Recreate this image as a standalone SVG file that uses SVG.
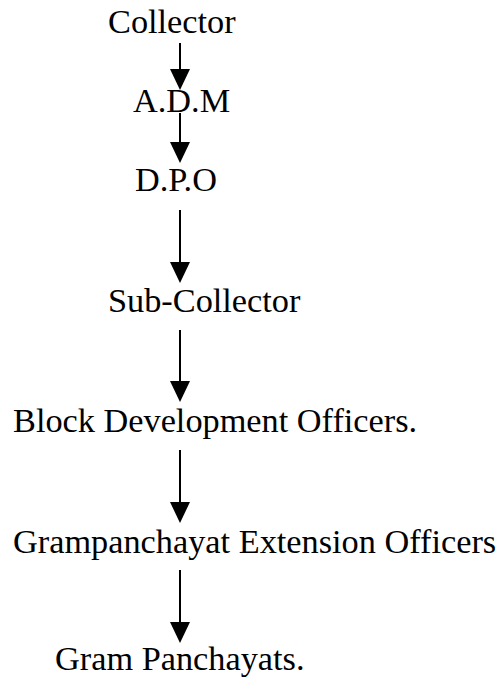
<svg xmlns="http://www.w3.org/2000/svg" width="503" height="679" viewBox="0 0 503 679">
<style>
text { font-family: "Liberation Serif", "Times New Roman", serif; font-size: 34.3px; fill: #000; }
.c line { stroke: #000; stroke-width: 2; marker-end: url(#ah); }
</style>
<defs>
<marker id="ah" markerWidth="21" markerHeight="20" refX="10" refY="10" orient="auto" markerUnits="userSpaceOnUse" viewBox="0 0 21 20">
<path d="M0,0 L21,10 L0,20 Z" fill="#000"/>
</marker>
</defs>
<rect width="503" height="679" fill="#fff"/>
<g id="n1"><text x="108" y="33">Collector</text></g>
<g id="n2"><text x="133" y="112">A.D.M</text></g>
<g id="n3"><text x="135" y="191">D.P.O</text></g>
<g id="n4"><text x="108" y="312">Sub-Collector</text></g>
<g id="n5"><text x="13" y="432">Block Development Officers.</text></g>
<g id="n6"><text x="13" y="553">Grampanchayat Extension Officers</text></g>
<g id="n7"><text x="55" y="670">Gram Panchayats.</text></g>
<g class="c" id="connectors">
<line x1="180" y1="43" x2="180" y2="79"/>
<line x1="180" y1="113" x2="180" y2="152"/>
<line x1="180" y1="210" x2="180" y2="272"/>
<line x1="180" y1="330" x2="180" y2="391"/>
<line x1="180" y1="450" x2="180" y2="512"/>
<line x1="180" y1="570" x2="180" y2="632"/>
</g>
</svg>
